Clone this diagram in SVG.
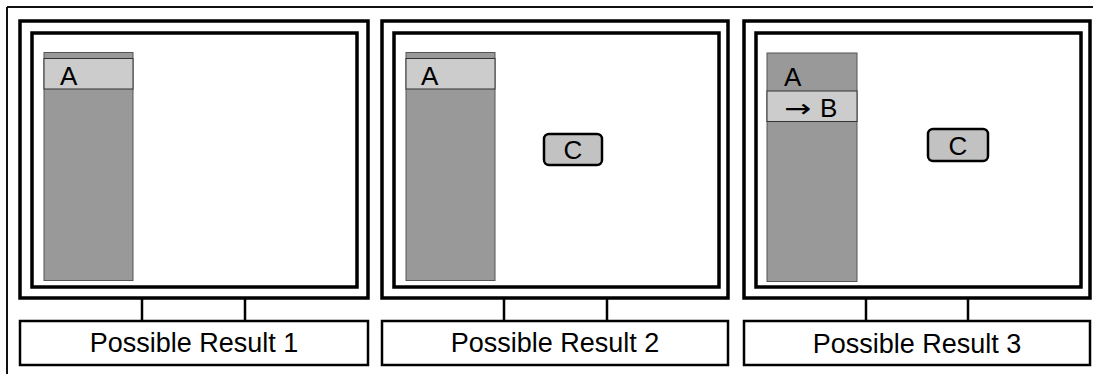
<svg xmlns="http://www.w3.org/2000/svg" width="1093" height="374" viewBox="0 0 1093 374">
<style>
.frame{fill:none;stroke:#111;stroke-width:2}
.mon{fill:#fff;stroke:#000;stroke-width:3.5}
.scr{fill:#fff;stroke:#000;stroke-width:3.5}
.stand{fill:none;stroke:#000;stroke-width:2.5}
.base{fill:#fff;stroke:#000;stroke-width:2.5}
.side{fill:#999;stroke:#555;stroke-width:1}
.band{fill:#ccc;stroke:#333;stroke-width:1}
.cbox{fill:#c2c2c2;stroke:#000;stroke-width:2.5}
text{font-family:"Liberation Sans",Arial,sans-serif;fill:#000}
.lbl{font-size:27px;text-anchor:middle}
.t{font-size:26px}
.arr{font-family:"DejaVu Sans ExtraLight","DejaVu Sans",sans-serif;font-size:25px}
</style>
<rect width="1093" height="374" fill="#fff"/>
<g id="frame">
<path class="frame" d="M7 7H1093M7 7V374"/>
</g>
<g id="monitor1">
<rect class="mon" x="20" y="21" width="348" height="277"/>
<rect class="scr" x="32" y="33" width="325" height="254"/>
<rect class="side" x="44" y="52.5" width="89" height="228"/>
<rect class="band" x="44" y="58.5" width="89" height="30.5"/>
<text class="t" x="60" y="85">A</text>
<path class="stand" d="M142 298V321M245 298V321"/>
<rect class="base" x="20" y="321" width="348" height="44"/>
<text class="lbl" x="194" y="352">Possible Result 1</text>
</g>
<g id="monitor2">
<rect class="mon" x="382" y="21" width="346" height="277"/>
<rect class="scr" x="394" y="33" width="325" height="254"/>
<rect class="side" x="406" y="52.5" width="89" height="228"/>
<rect class="band" x="406" y="58.5" width="89" height="30.5"/>
<text class="t" x="421" y="85">A</text>
<rect class="cbox" x="544" y="134" width="58" height="31" rx="5"/>
<text class="t" x="573" y="158.5" text-anchor="middle">C</text>
<path class="stand" d="M504 298V321M607 298V321"/>
<rect class="base" x="382" y="321" width="346" height="44"/>
<text class="lbl" x="555" y="352">Possible Result 2</text>
</g>
<g id="monitor3">
<rect class="mon" x="744" y="21" width="346" height="277"/>
<rect class="scr" x="756" y="33" width="325" height="254"/>
<rect class="side" x="767" y="53" width="90" height="228.5"/>
<rect class="band" x="767" y="91" width="90" height="30.5"/>
<text class="t" x="784" y="86">A</text>
<text class="t" x="784" y="116.5"><tspan class="arr" textLength="27" lengthAdjust="spacingAndGlyphs">→</tspan><tspan x="820">B</tspan></text>
<rect class="cbox" x="928" y="129" width="60" height="32" rx="5"/>
<text class="t" x="958" y="154.5" text-anchor="middle">C</text>
<path class="stand" d="M866 298V321M968 298V321"/>
<rect class="base" x="744" y="321" width="346" height="44"/>
<text class="lbl" x="917" y="353">Possible Result 3</text>
</g>
</svg>
